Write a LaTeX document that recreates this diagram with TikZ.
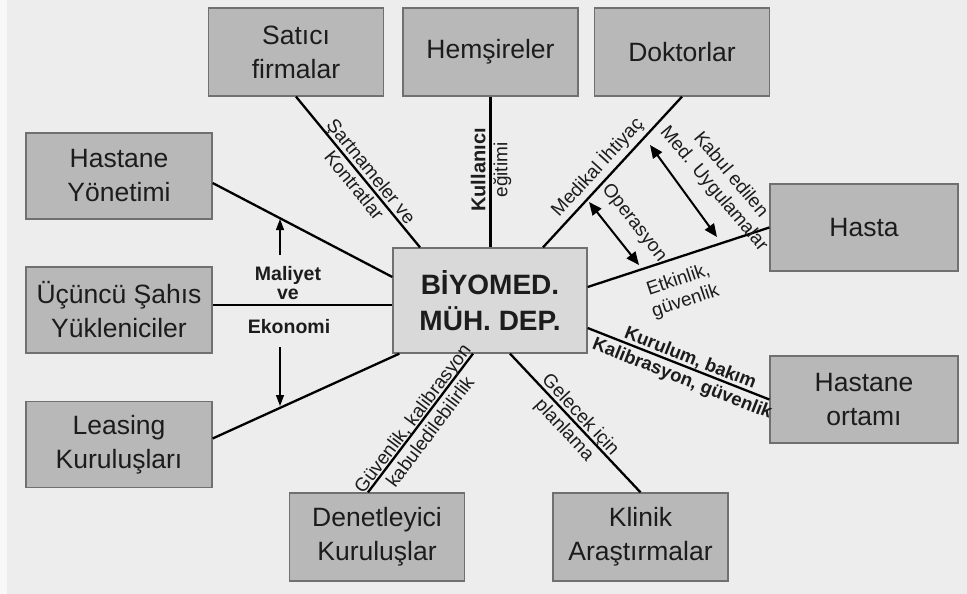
\documentclass[tikz,border=0pt]{standalone}
\usepackage{fontspec}
\setmainfont{Liberation Sans}
\usetikzlibrary{arrows.meta}
\definecolor{bg}{HTML}{EDEDED}
\definecolor{boxfill}{HTML}{B8B8B8}
\definecolor{boxedge}{HTML}{707070}
\definecolor{hubfill}{HTML}{D9D9D9}
\definecolor{ink}{HTML}{1C1C1C}
\begin{document}
\begin{tikzpicture}[x=1pt,y=1pt,
  unit/.style={draw=boxedge, line width=1.3pt, fill=boxfill, text=ink, align=center,
    inner sep=0pt, font=\fontsize{26.5}{34}\selectfont},
  side/.style={unit, minimum width=186pt, minimum height=86pt},
  tall/.style={unit, minimum width=175pt, minimum height=88pt},
  hub/.style={unit, fill=hubfill, minimum width=194pt, minimum height=105pt,
    font=\fontsize{28}{36}\selectfont\bfseries},
  link/.style={line width=2.3pt, draw=black},
  lbl/.style={text=ink, align=center, inner sep=0pt, font=\fontsize{19}{22}\selectfont},
  blbl/.style={lbl, font=\fontsize{19.5}{22}\selectfont\bfseries},
  twoway/.style={line width=2pt, {Triangle[length=13pt,width=11pt]}-{Triangle[length=13pt,width=11pt]}},
  oneway/.style={line width=1.2pt, -{Triangle[length=11pt,width=8pt]}},
]
% canvas
\fill[bg] (0,0) rectangle (967,-594);
\fill[white!60!bg] (0,0) rectangle (7,-594);
\useasboundingbox (0,0) rectangle (967,-594);

% boxes
\node[hub]  (hub) at (490,-300.5) {BİYOMED.\\MÜH. DEP.};
\node[tall] (sat) at (296,-52)    {Satıcı\\firmalar};
\node[tall] (hem) at (490.5,-52)  {Hemşireler};
\node[tall] (dok) at (682,-52)    {Doktorlar};
\node[side] (yon) at (119,-176)   {Hastane\\Yönetimi};
\node[side] (ucu) at (119,-310)   {Üçüncü Şahıs\\Yükleniciler};
\node[side] (lea) at (119,-444.5) {Leasing\\Kuruluşları};
\node[side, minimum width=188pt, minimum height=87pt] (has) at (864,-227.5) {Hasta};
\node[side, minimum width=188pt, minimum height=87pt] (ort) at (864,-399.5) {Hastane\\ortamı};
\node[tall] (den) at (377,-537)   {Denetleyici\\Kuruluşlar};
\node[tall] (kli) at (640.5,-537) {Klinik\\Araştırmalar};

% spokes
\coordinate (ucuport) at ([yshift=5pt]ucu.east);
\draw[link] (sat.south) -- ([xshift=-70pt]hub.north);
\draw[link] (hem.south) -- (hem.south |- hub.north);
\draw[link] (dok.south) -- ([xshift=53pt]hub.north);
\draw[link] ([yshift=13.5pt]hub.east) -- (has.west);
\draw[link] ([yshift=-27.5pt]hub.east) -- (ort.west);
\draw[link] ([xshift=20pt]hub.south) -- (kli.north);
\draw[link] ([xshift=-17pt]hub.south) -- ([xshift=-9pt]den.north);
\draw[link] ([xshift=7pt]hub.south west) -- ([yshift=6pt]lea.east);
\draw[link] (ucuport) -- (ucuport -| hub.west);
\draw[link] ([yshift=-7pt]yon.east) -- ([yshift=23.5pt]hub.west);

% double arrows beside the patient link
\coordinate (opA) at (589,-202);
\coordinate (opB) at (639,-265);
\coordinate (kbA) at (650,-145);
\coordinate (kbB) at (717,-237);
\draw[twoway] (opA) -- (opB);
\draw[twoway] (kbA) -- (kbB);

% cost arrows
\coordinate (upS) at (280,-255);
\coordinate (upE) at (280,-219);
\coordinate (dnS) at (280,-347);
\coordinate (dnE) at (280,-406);
\draw[oneway] (upS) -- (upE);
\draw[oneway] (dnS) -- (dnE);

% link labels
\node[lbl, rotate=-51]   (l1) at (363,-178) {Şartnameler ve\\Kontratlar};
\node[lbl, rotate=90]    (l2) at (491,-170) {{\fontsize{20}{22}\selectfont\bfseries Kullanıcı}\\eğitimi};
\node[lbl, rotate=47.6]  (l3) at (597,-167) {Medikal İhtiyaç};
\node[lbl, rotate=-52]   (l4) at (634,-223) {Operasyon};
\node[lbl, rotate=-50]   (l5) at (722,-182) {Kabul edilen\\Med. Uygulamalar};
\node[lbl, rotate=18.5]  (l6) at (682,-291) {Etkinlik,\\güvenlik};
\node[blbl, font=\fontsize{18.5}{22}\selectfont\bfseries, rotate=-21.5] (l7) at (686,-369) {Kurulum, bakım\\Kalibrasyon, güvenlik};
\node[lbl, rotate=53.1]  (l8) at (421,-425) {Güvenlik, kalibrasyon\\kabuledilebilirlik};
\node[lbl, rotate=-47.1] (l9) at (572,-423) {Gelecek için\\planlama};
\node[blbl, font=\fontsize{19.5}{19}\selectfont\bfseries] (l10) at (288,-283) {Maliyet\\ve};
\node[blbl] (l11) at (289,-327) {Ekonomi};
\end{tikzpicture}
\end{document}
